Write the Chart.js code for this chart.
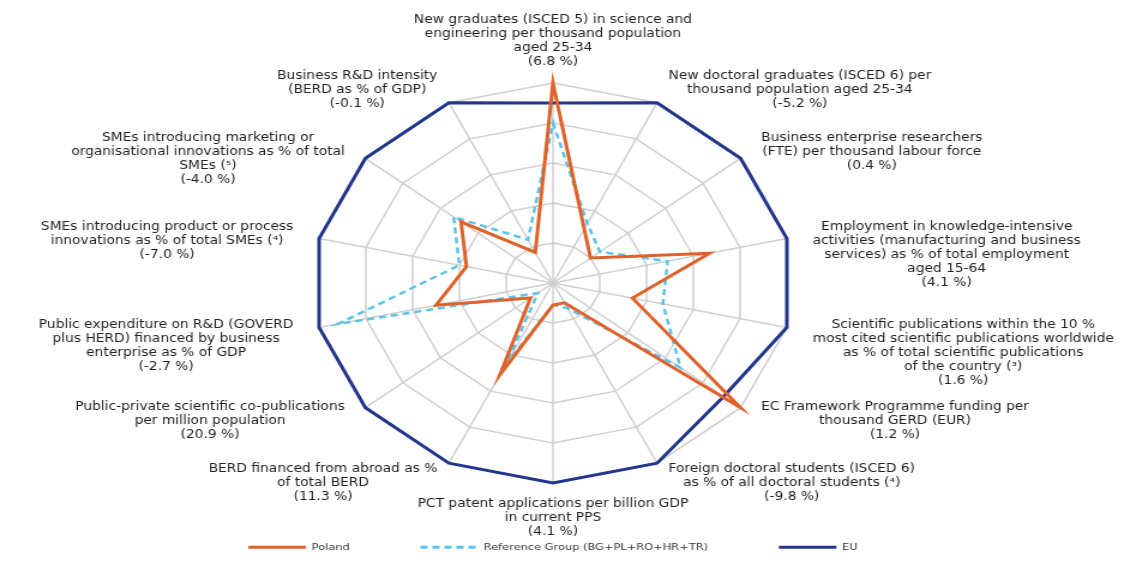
<!DOCTYPE html>
<html>
<head>
<meta charset="utf-8">
<script src="https://cdn.jsdelivr.net/npm/chart.js@4"></script>
<style>
    html, body { margin: 0; padding: 0; background: #fff; overflow: hidden; }
    /* drawn narrower, then stretched wide like the original picture */
    #wrap { width: 937px; height: 562px; transform: scale(1.1995, 1); transform-origin: 0 0; }
</style>
</head>
<body>
<div id="wrap"><canvas id="radar" width="937" height="562"></canvas></div>
<script>
const axisLabels = [
    ['New graduates (ISCED 5) in science and', 'engineering per thousand population', 'aged 25-34', '(6.8 %)'],
    ['New doctoral graduates (ISCED 6) per', 'thousand population aged 25-34', '(-5.2 %)'],
    ['Business enterprise researchers', '(FTE) per thousand labour force', '(0.4 %)'],
    ['Employment in knowledge-intensive', 'activities (manufacturing and business', 'services) as % of total employment', 'aged 15-64', '(4.1 %)'],
    ['Scientific publications within the 10 %', 'most cited scientific publications worldwide', 'as % of total scientific publications', 'of the country (³)', '(1.6 %)'],
    ['EC Framework Programme funding per', 'thousand GERD (EUR)', '(1.2 %)'],
    ['Foreign doctoral students (ISCED 6)', 'as % of all doctoral students (⁴)', '(-9.8 %)'],
    ['PCT patent applications per billion GDP', 'in current PPS', '(4.1 %)'],
    ['BERD financed from abroad as %', 'of total BERD', '(11.3 %)'],
    ['Public-private scientific co-publications', 'per million population', '(20.9 %)'],
    ['Public expenditure on R&D (GOVERD', 'plus HERD) financed by business', 'enterprise as % of GDP', '(-2.7 %)'],
    ['SMEs introducing product or process', 'innovations as % of total SMEs (⁴)', '(-7.0 %)'],
    ['SMEs introducing marketing or', 'organisational innovations as % of total', 'SMEs (⁵)', '(-4.0 %)'],
    ['Business R&D intensity', '(BERD as % of GDP)', '(-0.1 %)']
];

const poland   = [100, 30, 20, 67, 34, 100, 11, 11, 51, 12, 50, 37, 49, 17];
const refGroup = [80, 33, 25, 49, 47, 68, 14, 11, 45, 8, 92, 40, 53, 24];
const eu       = [90, 100, 100, 100, 100, 91, 100, 100, 100, 100, 100, 100, 100, 100];

const seriesNames = ['Poland', 'Reference Group (BG+PL+RO+HR+TR)', 'EU'];

// axis titles drawn as centred blocks next to the outer ring
const axisTitles = {
    id: 'axisTitles',
    afterDraw(chart) {
        const scale = chart.scales.r;
        const ctx = chart.ctx;
        const lh = 14;
        const n = axisLabels.length;
        ctx.save();
        ctx.font = '11.5px "DejaVu Sans"';
        ctx.fillStyle = '#222';
        ctx.textAlign = 'center';
        ctx.textBaseline = 'middle';
        axisLabels.forEach((lines, i) => {
            const p = scale.getPointPosition(i, scale.drawingArea + 22);
            const w = Math.max(...lines.map(l => ctx.measureText(l).width));
            const h = lines.length * lh;
            const deg = i * 360 / n;
            let cx = p.x;
            let top = p.y - h / 2;
            if (deg === 0) {
                top = p.y - h + 8;
            } else if (deg === 180) {
                top = p.y - 8;
            } else {
                cx = deg < 180 ? p.x + w / 2 : p.x - w / 2;
                // labels on the upper and middle axes hang down from the anchor
                if (deg < 120 || deg > 240) top = p.y - 14;
            }
            lines.forEach((l, j) => ctx.fillText(l, cx, top + lh * (j + 0.5)));
        });
        ctx.restore();
    }
};

new Chart(document.getElementById('radar'), {
    type: 'radar',
    data: {
        labels: axisLabels,
        datasets: [
            {
                label: seriesNames[0],
                data: poland,
                borderColor: '#e0622a',
                borderWidth: 3
            },
            {
                label: seriesNames[1],
                data: refGroup,
                borderColor: '#5cc3ea',
                borderWidth: 2.5,
                borderDash: [6, 4]
            },
            {
                label: seriesNames[2],
                data: eu,
                borderColor: '#22378c',
                borderWidth: 3
            }
        ]
    },
    options: {
        responsive: false,
        devicePixelRatio: 1,
        animation: false,
        layout: { padding: { top: 83, left: 0, right: 15, bottom: 0 } },
        elements: {
            line: { fill: false, tension: 0 },
            point: { radius: 0, hoverRadius: 0 }
        },
        scales: {
            r: {
                min: 0,
                max: 100,
                ticks: { display: false, stepSize: 20 },
                grid: { color: '#cfcfcf', lineWidth: 1.5 },
                angleLines: { color: '#cfcfcf', lineWidth: 1.5 },
                pointLabels: { display: false }
            }
        },
        plugins: {
            tooltip: { enabled: false },
            legend: {
                position: 'bottom',
                labels: {
                    usePointStyle: true,
                    pointStyle: 'line',
                    pointStyleWidth: 48,
                    padding: 59,
                    color: '#333',
                    font: { family: 'DejaVu Sans', size: 9.5 },
                    generateLabels: chart => Chart.defaults.plugins.legend.labels.generateLabels(chart).map((item, i) => ({
                        ...item,
                        lineWidth: 3,
                        lineDash: chart.data.datasets[i].borderDash || []
                    }))
                }
            }
        }
    },
    plugins: [axisTitles]
});
</script>
</body>
</html>
